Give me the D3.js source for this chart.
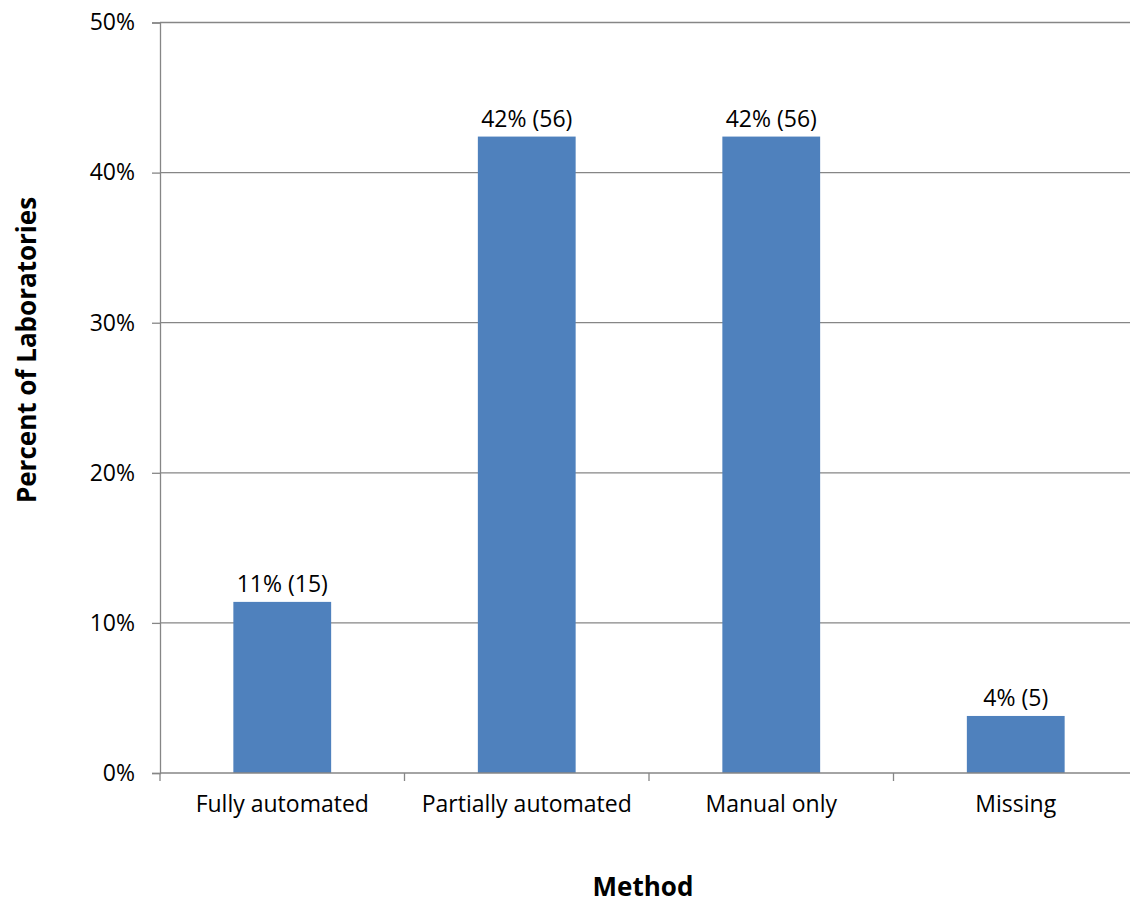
<!DOCTYPE html>
<html><head><meta charset="utf-8">
<script src="https://cdn.jsdelivr.net/npm/d3@7"></script>
<style>body{margin:0;background:#fff}svg{display:block}text{font-family:"Open Sans",sans-serif}</style>
</head><body>
<script>
const categories = ["Fully automated","Partially automated","Manual only","Missing"];
const percents = [11.4, 42.4, 42.4, 3.8];
const counts = [15, 56, 56, 5];
const pctLabels = ["11%","42%","42%","4%"];
const yTicks = [0,10,20,30,40,50];

const W=1130,H=903;
const m={left:160,top:22.5,right:1138,bottom:773};
const svg=d3.select("body").append("svg").attr("width",W).attr("height",H);
const x=d3.scaleBand().domain(categories).range([m.left,m.right]).paddingInner(0.6).paddingOuter(0.3);
const y=d3.scaleLinear().domain([0,50]).range([m.bottom,m.top]);
const grey="#868686";
const FS=23;

svg.append("g").selectAll("line").data(yTicks.filter(d=>d>0)).join("line")
 .attr("x1",m.left).attr("x2",m.right).attr("y1",d=>y(d)).attr("y2",d=>y(d))
 .attr("stroke",grey).attr("stroke-width",1.3);

svg.append("g").selectAll("rect").data(categories).join("rect")
 .attr("x",d=>x(d)).attr("width",x.bandwidth())
 .attr("y",(d,i)=>y(percents[i])).attr("height",(d,i)=>m.bottom-y(percents[i]))
 .attr("fill","#4F81BD");

const ya=svg.append("g").attr("transform",`translate(${m.left},0)`)
 .call(d3.axisLeft(y).tickValues(yTicks).tickFormat(d=>d+"%").tickSize(8).tickPadding(17));
ya.select(".domain").attr("stroke",grey).attr("stroke-width",1.3);
ya.selectAll(".tick line").attr("stroke",grey).attr("stroke-width",1.3);
ya.selectAll("text").attr("font-size",FS).attr("fill","#000").attr("font-family","'Open Sans',sans-serif");

const xa=svg.append("g").attr("transform",`translate(0,${m.bottom})`)
 .call(d3.axisBottom(x).tickSize(0).tickPadding(23));
xa.select(".domain").attr("stroke",grey).attr("stroke-width",1.3).attr("d",`M${m.left},0H${m.right}`);
xa.selectAll("text").attr("font-size",FS).attr("fill","#000").attr("font-family","'Open Sans',sans-serif");
const bounds=d3.range(categories.length+1).map(i=>m.left+i*(m.right-m.left)/categories.length);
svg.append("g").selectAll("line").data(bounds).join("line")
 .attr("x1",d=>d).attr("x2",d=>d).attr("y1",m.bottom).attr("y2",m.bottom+8)
 .attr("stroke",grey).attr("stroke-width",1.3);

svg.append("g").selectAll("text").data(categories).join("text")
 .attr("x",d=>x(d)+x.bandwidth()/2).attr("y",(d,i)=>y(percents[i])-10)
 .attr("text-anchor","middle").attr("font-size",FS)
 .text((d,i)=>`${pctLabels[i]} (${counts[i]})`);

svg.append("text").attr("transform","translate(36,350) rotate(-90)")
 .attr("text-anchor","middle").attr("font-size",26).attr("font-weight","bold").text("Percent of Laboratories");
svg.append("text").attr("x",643).attr("y",896)
 .attr("text-anchor","middle").attr("font-size",26).attr("font-weight","bold").text("Method");
</script>
</body></html>
